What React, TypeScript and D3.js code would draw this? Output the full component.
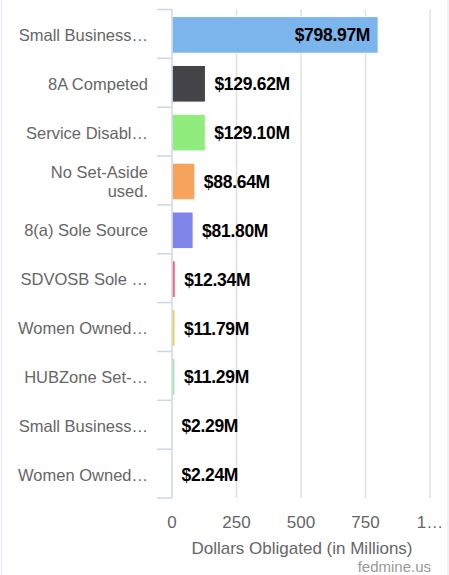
import React from "react";
import * as d3 from "d3";

const categories = [
  "Small Business…",
  "8A Competed",
  "Service Disabl…",
  "No Set-Aside|used.",
  "8(a) Sole Source",
  "SDVOSB Sole …",
  "Women Owned…",
  "HUBZone Set-…",
  "Small Business…",
  "Women Owned…",
];
const values = [798.97, 129.62, 129.1, 88.64, 81.8, 12.34, 11.79, 11.29, 2.29, 2.24];
const valueLabels = ["$798.97M", "$129.62M", "$129.10M", "$88.64M", "$81.80M", "$12.34M", "$11.79M", "$11.29M", "$2.29M", "$2.24M"];
const colors = ["#7cb5ec", "#434348", "#90ed7d", "#f7a35c", "#8085e9", "#f15c80", "#e4d354", "#a3e6a0", "#2b908f", "#f45b5b"];
const xTicks = [0, 250, 500, 750, 1000];
const xTickLabels = ["0", "250", "500", "750", "1…"];
const axisTitle = "Dollars Obligated (in Millions)";
const credit = "fedmine.us";

const W = 449;
const H = 575;
const FONT = "'Liberation Sans', Arial, Helvetica, sans-serif";

export default function App() {
  const x = d3.scaleLinear().domain([0, 1000]).range([172, 430]);
  const y = d3
    .scaleBand<number>()
    .domain(d3.range(categories.length))
    .range([9.5, 498])
    .paddingInner(0.25)
    .paddingOuter(0.125);
  const band = y.step();
  const top = 9.5;
  const bottom = 498;
  const x0 = x(0);

  return (
    <svg
      width={W}
      height={H}
      style={{ position: "absolute", left: 0, top: 0, background: "#fff" }}
      fontFamily={FONT}
    >
      <rect x={0} y={0} width={W} height={H} fill="#fff" />
      <line x1={1.5} x2={1.5} y1={0} y2={H} stroke="#eceef4" strokeWidth={1.5} />
      <line x1={448} x2={448} y1={0} y2={H} stroke="#eceef4" strokeWidth={1.5} />
      {xTicks.slice(1).map((t) => (
        <line key={t} x1={x(t)} x2={x(t)} y1={top} y2={bottom} stroke="#e0e0e0" strokeWidth={1.5} />
      ))}
      {values.map((v, i) => (
        <rect
          key={i}
          x={x0}
          y={(y(i) as number) + 1}
          width={Math.max(0, x(v) - x0)}
          height={y.bandwidth()}
          fill={colors[i]}
          stroke="#fff"
          strokeWidth={1}
        />
      ))}
      <line x1={x0} x2={x0} y1={top} y2={bottom} stroke="#ccd6eb" strokeWidth={1.5} />
      {d3.range(categories.length + 1).map((i) => (
        <line
          key={i}
          x1={x0 - 15}
          x2={x0}
          y1={top + i * band}
          y2={top + i * band}
          stroke="#ccd6eb"
          strokeWidth={1.5}
        />
      ))}
      {categories.map((c, i) => {
        const cy = (y(i) as number) + 1 + y.bandwidth() / 2;
        const lines = c.split("|");
        const lh = 19;
        return (
          <text key={i} x={148} textAnchor="end" fontSize={16.5} fill="#666">
            {lines.map((l, j) => (
              <tspan key={j} x={148} y={cy + 6 + (j - (lines.length - 1) / 2) * lh}>
                {l}
              </tspan>
            ))}
          </text>
        );
      })}
      {values.map((v, i) => {
        const cy = (y(i) as number) + 1 + y.bandwidth() / 2;
        const inside = v > 500;
        return (
          <text
            key={i}
            x={inside ? x(v) - 8 : x(v) + 9}
            y={cy + 6.5}
            textAnchor={inside ? "end" : "start"}
            fontSize={17.5}
            fontWeight="bold"
            fill="#000"
            letterSpacing={-0.3}
          >
            {valueLabels[i]}
          </text>
        );
      })}
      {xTicks.map((t, i) => (
        <text key={t} x={x(t)} y={528} textAnchor="middle" fontSize={17} fill="#666">
          {xTickLabels[i]}
        </text>
      ))}
      <text x={(x(0) + x(1000)) / 2 + 1} y={554} textAnchor="middle" fontSize={17} fill="#666">
        {axisTitle}
      </text>
      <text x={431} y={572} textAnchor="end" fontSize={15} fill="#999">
        {credit}
      </text>
    </svg>
  );
}
